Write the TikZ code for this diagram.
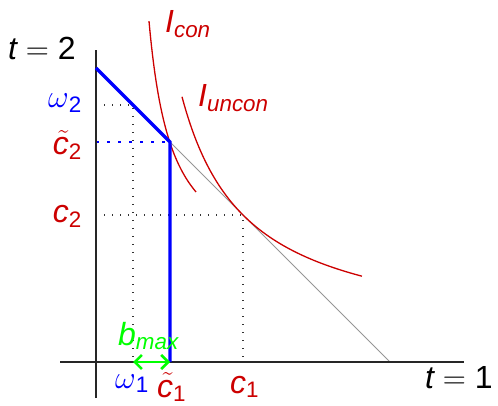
\documentclass[tikz,border=0pt]{standalone}
\usepackage{fix-cm}
\usepackage{fontspec}
\setmainfont{Liberation Sans}
\usetikzlibrary{arrows.meta}
\definecolor{myred}{RGB}{204,0,0}
\definecolor{myblue}{RGB}{0,0,255}
\definecolor{mygreen}{RGB}{0,255,0}
\definecolor{mygray}{RGB}{150,150,150}
\newcommand{\tc}{\rlap{\hspace{0.12em}\raisebox{0.11em}{$\tilde{\phantom{c}}$}}\textit{c}}
\begin{document}
\begin{tikzpicture}[x=1pt,y=-1pt,
  lbl/.style={inner sep=0pt, font=\fontsize{32}{38}\selectfont},
  axisline/.style={line width=1.2pt, black!85},
  dotblack/.style={line width=1.3pt, black!80, dash pattern=on 1.3pt off 6.7pt},
  dotblue/.style={line width=2.6pt, myblue, dash pattern=on 2.6pt off 8.4pt},
  budget/.style={line width=0.9pt, mygray},
  icurve/.style={line width=1.3pt, myred},
  bluebold/.style={line width=3.2pt, myblue, line join=miter},
  bmaxarrow/.style={line width=2.6pt, mygreen, {Straight Barb[length=7pt,width=14pt]}-{Straight Barb[length=7pt,width=14pt]}}]
\useasboundingbox (0,0) rectangle (498,406);
% coordinates
\coordinate (O) at (96,362);
\coordinate (ytop) at (96,50);
\coordinate (ybot) at (96,398);
\coordinate (xleft) at (60,362);
\coordinate (xright) at (464,362);
\coordinate (A) at (96,68);
\coordinate (K) at (170,142);
\coordinate (Kb) at (170,362);
\coordinate (B) at (390,362);
\coordinate (W) at (133,105);
\coordinate (Wy) at (96,105);
\coordinate (Wx) at (133,362);
\coordinate (Ky) at (96,142);
\coordinate (C) at (243,215);
\coordinate (Cy) at (96,215);
\coordinate (Cx) at (243,362);
% dotted guides
\draw[dotblack] (Wy) -- (W) -- (Wx);
\draw[dotblack] (Cy) -- (C) -- (Cx);
\draw[dotblue] (Ky) -- (K);
% budget line
\draw[budget] (K) -- (B);
% indifference curves
\draw[icurve] plot[domain=149:196, samples=60] (\x, {275-5800/(\x-126.15)});
\draw[icurve] plot[domain=182:362, samples=90] (\x, {341-15876/(\x-117)});
% axes
\draw[axisline] (ybot) -- (ytop);
\draw[axisline] (xleft) -- (xright);
% constrained budget
\draw[bluebold] (A) -- (K) -- (Kb);
% b_max arrow
\draw[bmaxarrow] (Wx) -- (Kb);
% labels
\node[lbl, anchor=base west] (t2) at (8,60) {$\textit{t} = \textrm{2}$};
\node[lbl, anchor=base west] (t1) at (425,388) {$\textit{t} = \textrm{1}$};
\node[lbl, anchor=base east, text=myblue] (lw2) at (82,108) {$\omega$\textsubscript{2}};
\node[lbl, anchor=base east, text=myred] (lct2) at (82,155) {\tc\textsubscript{2}};
\node[lbl, anchor=base east, text=myred] (lc2) at (82,223) {\textit{c}\textsubscript{2}};
\node[lbl, anchor=base west, text=mygreen] (lb) at (118,345) {\textit{b}\textsubscript{\itshape max}};
\node[lbl, anchor=base west, text=myblue] (lw1) at (115,388) {$\omega$\textsubscript{1}};
\node[lbl, anchor=base west, text=myred] (lct1) at (157,397) {\tc\textsubscript{1}};
\node[lbl, anchor=base west, text=myred] (lc1) at (230,393) {\textit{c}\textsubscript{1}};
\node[lbl, anchor=base west, text=myred] (licon) at (165,33) {\textit{I}\textsubscript{\itshape con}};
\node[lbl, anchor=base west, text=myred] (liun) at (198,107) {\textit{I}\textsubscript{\itshape uncon}};
\end{tikzpicture}
\end{document}
